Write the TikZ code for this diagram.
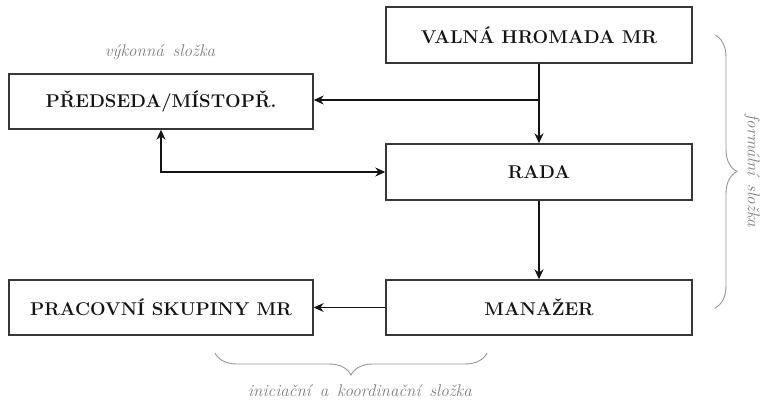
\documentclass[tikz,border=0pt]{standalone}
\usepackage{fontspec}
\usetikzlibrary{arrows.meta,decorations.pathreplacing}
\definecolor{boxline}{RGB}{55,55,55}
\definecolor{inkdark}{RGB}{20,20,20}
\definecolor{notegray}{RGB}{125,125,125}
\definecolor{bracegray}{RGB}{150,150,150}
\tikzset{
  orgbox/.style={draw=boxline, line width=1.4pt, fill=white, text=inkdark,
    inner sep=0pt, font=\fontsize{18.5}{20}\selectfont\bfseries},
  flow/.style={draw=inkdark, line width=1.1pt, -{Stealth[length=10pt,width=9pt]}},
  flowboth/.style={draw=inkdark, line width=1.1pt, {Stealth[length=10pt,width=9pt]}-{Stealth[length=10pt,width=9pt]}},
  grp/.style={draw=bracegray, line width=0.9pt, decorate},
  note/.style={text=notegray, font=\fontsize{17}{19}\selectfont\itshape}
}
\begin{document}
\begin{tikzpicture}[x=1pt,y=-1pt]
\path[use as bounding box] (0,0) rectangle (764,401);

% governing bodies
\node[orgbox, minimum width=306pt, minimum height=56pt] (vh) at (539,35) {VALNÁ HROMADA MR};
\node[orgbox, minimum width=304pt, minimum height=55pt] (pred) at (161,101.5) {PŘEDSEDA/MÍSTOPŘ.};
\node[orgbox, minimum width=306pt, minimum height=56pt] (rada) at (539,172) {RADA};
\node[orgbox, minimum width=306pt, minimum height=55pt] (man) at (539,307.5) {MANAŽER};
\node[orgbox, minimum width=304pt, minimum height=55pt] (ps) at (161,307.5) {PRACOVNÍ SKUPINY MR};

% connections
\coordinate (split) at (539,100);
\draw[flow] (vh.south) -- (rada.north);
\draw[flow] (split) -- (split -| pred.east);
\draw[flowboth] (pred.south) |- (rada.west);
\draw[flow] (rada.south) -- (man.north);
\draw[flow] (man.west) -- (ps.east);

% groupings
\coordinate (fTop) at (715,35);
\coordinate (fBot) at (715,308);
\draw[grp, decoration={brace, amplitude=22pt}] (fTop) -- (fBot);
\node[note, rotate=-90] (formal) at (752,171) {formální\, složka};

\coordinate (iL) at (215,353);
\coordinate (iR) at (487,353);
\draw[grp, decoration={brace, amplitude=22pt}] (iR) -- (iL);
\node[note] (inic) at (360,391) {iniciační\, a\, koordinační\, složka};

\node[note] (vyk) at (160,52) {výkonná\, složka};
\end{tikzpicture}
\end{document}
